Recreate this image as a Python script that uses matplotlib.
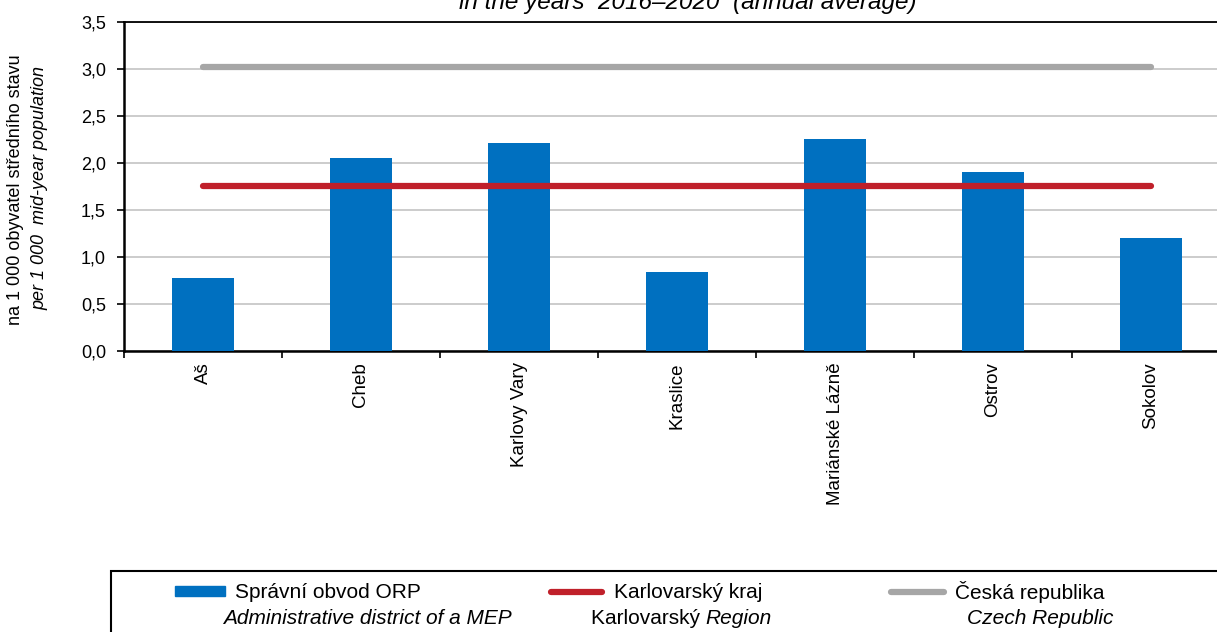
import matplotlib
matplotlib.use("Agg")
import matplotlib.pyplot as plt
from matplotlib.patches import Rectangle
from matplotlib.lines import Line2D

categories = ["Aš", "Cheb", "Karlovy Vary", "Kraslice", "Mariánské Lázně", "Ostrov", "Sokolov"]
orp_values = [0.78, 2.05, 2.21, 0.84, 2.26, 1.90, 1.20]
region_value = 1.76
czech_value = 3.02
yticks = [0.0, 0.5, 1.0, 1.5, 2.0, 2.5, 3.0, 3.5]
ytick_labels = ["0,0", "0,5", "1,0", "1,5", "2,0", "2,5", "3,0", "3,5"]

BLUE = "#0070C0"
RED = "#C0202A"
GRAY = "#A6A6A6"
FONT = "Liberation Sans"

W, H = 1217, 632
fig = plt.figure(figsize=(W / 100, H / 100), dpi=100)
ax = fig.add_axes([124 / W, 1 - 351 / H, (1230 - 124) / W, (351 - 22) / H])

x = list(range(len(categories)))
ax.bar(x, orp_values, width=0.39, color=BLUE, zorder=3)
ax.plot([x[0], x[-1]], [czech_value, czech_value], color=GRAY, lw=4.5,
        solid_capstyle="round", zorder=4)
ax.plot([x[0], x[-1]], [region_value, region_value], color=RED, lw=4.5,
        solid_capstyle="round", zorder=4)

ax.set_xlim(-0.5, len(categories) - 0.5)
ax.set_ylim(0, 3.5)
ax.set_yticks(yticks)
ax.set_yticklabels(ytick_labels, fontsize=13, family=FONT)
ax.yaxis.grid(True, color="#C8C8C8", lw=1.3, zorder=0)
ax.set_axisbelow(True)

ax.set_xticks([i - 0.5 for i in range(len(categories) + 1)])
ax.set_xticklabels([])
ax.set_xticks(x, minor=True)
ax.set_xticklabels(categories, minor=True, rotation=90, fontsize=13.5,
                   family=FONT, va="top", ha="center")
ax.tick_params(axis="x", which="minor", length=0, pad=8)
ax.tick_params(axis="x", which="major", length=5, width=1.2, direction="out")
ax.tick_params(axis="y", length=5, width=1.2, direction="out", pad=8)

for s in ["left", "bottom", "top"]:
    ax.spines[s].set_linewidth(1.8)
    ax.spines[s].set_color("black")
ax.spines["top"].set_linewidth(1.3)
ax.spines["right"].set_visible(False)

# y label (two lines)
fig.text(16 / W, 1 - 190 / H, "na 1 000 obyvatel středního stavu", rotation=90,
         ha="center", va="center", fontsize=13, family=FONT)
fig.text(40 / W, 1 - 188 / H, "per 1 000  mid-year population", rotation=90,
         ha="center", va="center", fontsize=13, family=FONT, style="italic")

# title (cropped at top, as in the reference)
fig.text(688 / W, 1 - 9 / H, "in the years  2016–2020  (annual average)",
         ha="center", va="baseline", fontsize=17.5, family=FONT, style="italic")

# legend box
fig.add_artist(Rectangle((111 / W, -0.05), 1.0, (632 - 571) / H + 0.05,
                         transform=fig.transFigure, fill=False,
                         edgecolor="black", lw=1.5))
ly = 1 - 592 / H
ly2 = 1 - 619 / H
LFS = 15
fig.add_artist(Rectangle((175 / W, 1 - 596 / H), 50 / W, 10 / H,
                         transform=fig.transFigure, color=BLUE))
fig.text(235 / W, ly, "Správní obvod ORP", ha="left", va="center",
         fontsize=LFS, family=FONT)
fig.text(223 / W, ly2, "Administrative district of a MEP", ha="left",
         va="center", fontsize=LFS, family=FONT, style="italic")

fig.add_artist(Line2D([551 / W, 602 / W], [ly, ly], transform=fig.transFigure,
                      color=RED, lw=4.5, solid_capstyle="round"))
fig.text(614 / W, ly, "Karlovarský kraj", ha="left", va="center",
         fontsize=LFS, family=FONT)
t1 = fig.text(591 / W, ly2, "Karlovarský ", ha="left", va="center",
              fontsize=LFS, family=FONT)
fig.canvas.draw()
bb = t1.get_window_extent()
fig.text(bb.x1 / W, ly2, "Region", ha="left", va="center",
         fontsize=LFS, family=FONT, style="italic")

fig.add_artist(Line2D([891 / W, 944 / W], [ly, ly], transform=fig.transFigure,
                      color=GRAY, lw=4.5, solid_capstyle="round"))
fig.text(955 / W, ly, "Česká republika", ha="left", va="center",
         fontsize=LFS, family=FONT)
fig.text(967 / W, ly2, "Czech Republic", ha="left", va="center",
         fontsize=LFS, family=FONT, style="italic")

fig.savefig("out.png", dpi=100)
